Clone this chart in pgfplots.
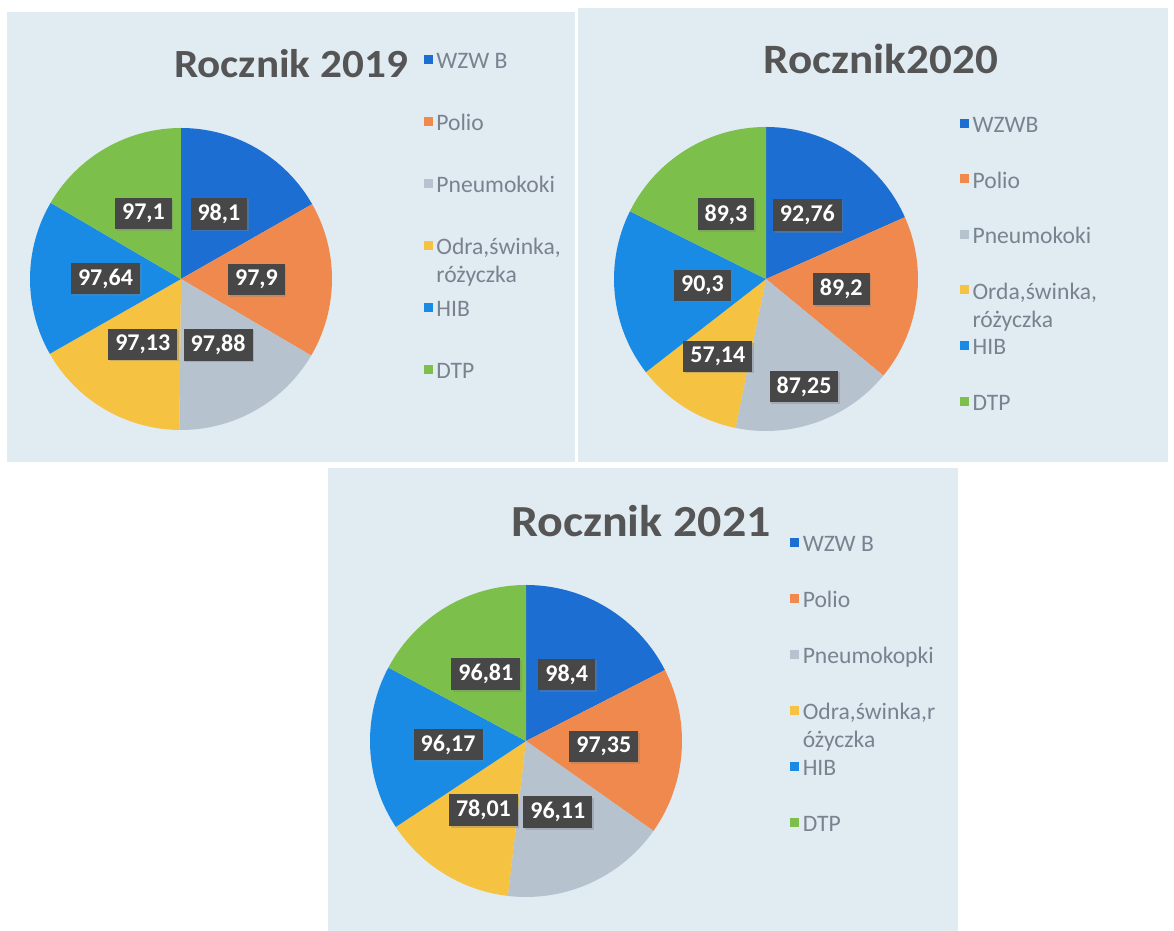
\documentclass[border=0pt]{standalone}
\usepackage{pgfplots}
\usepackage{pgfplotstable}
\pgfplotsset{compat=1.18}
\usetikzlibrary{shadows}
\usepackage{fontspec}
\setmainfont{Carlito}

\definecolor{cWZW}{HTML}{1D6ED3}
\definecolor{cPolio}{HTML}{EF894D}
\definecolor{cPneumo}{HTML}{B7C2CF}
\definecolor{cOdra}{HTML}{F5C242}
\definecolor{cHIB}{HTML}{1A8BE4}
\definecolor{cDTP}{HTML}{7CC04B}
\definecolor{labgray}{HTML}{474747}
\definecolor{titlegray}{HTML}{555555}
\definecolor{leggray}{HTML}{7A8290}
\definecolor{panelbg}{HTML}{E1EBF2}

% value, label radius factor, colour
\pgfplotstableread{
val lr col
98.1 0.5 cWZW
97.9 0.5 cPolio
97.88 0.5 cPneumo
97.13 0.5 cOdra
97.64 0.5 cHIB
97.1 0.5 cDTP
}\dataA
\pgfplotstableread{
val lr col
92.76 0.5 cWZW
89.2 0.5 cPolio
87.25 0.75 cPneumo
57.14 0.6 cOdra
90.3 0.42 cHIB
89.3 0.5 cDTP
}\dataB
\pgfplotstableread{
val lr col
98.4 0.5 cWZW
97.35 0.5 cPolio
96.11 0.5 cPneumo
78.01 0.52 cOdra
96.17 0.5 cHIB
96.81 0.5 cDTP
}\dataC

\tikzset{lab/.style={fill=labgray, text=white, font=\bfseries\fontsize{12}{14}\selectfont,
  inner xsep=3.5pt, inner ysep=3pt,
  drop shadow={opacity=0.35, shadow xshift=0.8pt, shadow yshift=-0.8pt}}}

\newcommand\drawpie[2]{%
  \pgfplotstablegetrowsof{#1}%
  \pgfmathtruncatemacro\lastrow{\pgfplotsretval-1}%
  \gdef\pietot{0}%
  \foreach \i in {0,...,\lastrow}{%
    \pgfplotstablegetelem{\i}{val}\of{#1}%
    \pgfmathsetmacro\tmp{\pietot+\pgfplotsretval}%
    \xdef\pietot{\tmp}%
  }%
  \gdef\piestart{90}%
  \foreach \i in {0,...,\lastrow}{%
    \pgfplotstablegetelem{\i}{val}\of{#1}\let\v\pgfplotsretval
    \pgfplotstablegetelem{\i}{col}\of{#1}\let\c\pgfplotsretval
    \pgfmathsetmacro\pieend{\piestart-\v/\pietot*360}%
    \fill[\c] (axis cs:0,0) -- ++(\piestart:#2pt) arc[start angle=\piestart, end angle=\pieend, radius=#2pt] -- cycle;
    \xdef\piestart{\pieend}%
  }%
  \gdef\piestart{90}%
  \foreach \i in {0,...,\lastrow}{%
    \pgfplotstablegetelem{\i}{val}\of{#1}\let\v\pgfplotsretval
    \pgfplotstablegetelem{\i}{lr}\of{#1}\let\lr\pgfplotsretval
    \pgfmathsetmacro\pieend{\piestart-\v/\pietot*360}%
    \pgfmathsetmacro\piemid{(\piestart+\pieend)/2}%
    \pgfmathsetmacro\rr{\lr*#2}%
    \path (axis cs:0,0) ++(\piemid:\rr pt) node[lab] {\pgfmathprintnumber[fixed,precision=2,use comma,assume math mode=true]{\v}};
    \xdef\piestart{\pieend}%
  }%
}

\pgfplotsset{
  piestyle/.style={hide axis, x=1pt, y=1pt, clip=false, anchor=center,
    legend cell align=left,
    legend image code/.code={\fill[##1] (0pt,-0.3pt) rectangle (4pt,3.7pt);},
    legend style={draw=none, fill=none, anchor=north west, inner sep=0pt, outer sep=0pt,
      column sep=2pt, font=\fontsize{11.8}{14}\selectfont, text=leggray,
      nodes={inner sep=0pt, text height=8pt, text depth=2pt}},
  },
}
\newcommand\legitems[2]{%
  \addlegendimage{cWZW}\addlegendentry{#1}
  \addlegendimage{cPolio}\addlegendentry{Polio}
  \addlegendimage{cPneumo}\addlegendentry{#2}
}

\begin{document}
\begin{tikzpicture}
\path[use as bounding box] (0,0) rectangle (587pt,465.5pt);
\fill[white] (0,0) rectangle (587pt,465.5pt);
\fill[panelbg] (3.5pt,234.5pt) rectangle (287.5pt,459.5pt);
\fill[panelbg] (289pt,234.5pt) rectangle (584pt,461.5pt);
\fill[panelbg] (164pt,0pt) rectangle (479pt,231.5pt);

% 2019
\begin{axis}[piestyle, at={(90.5pt,326pt)}, xmin=-75.5, xmax=75.5, ymin=-75.5, ymax=75.5,
  legend style={at={(1.3033,1.25)}, row sep=21pt}]
\legitems{WZW B}{Pneumokoki}
\addlegendimage{cOdra}\addlegendentry{\smash{\begin{tabular}[t]{@{}l@{}}Odra,świnka,\\[0pt]różyczka\end{tabular}}}
\addlegendimage{cHIB}\addlegendentry{HIB}
\addlegendimage{cDTP}\addlegendentry{DTP}
\pgfplotsextra{\drawpie{\dataA}{75.5}}
\end{axis}

% 2020
\begin{axis}[piestyle, at={(383pt,326pt)}, xmin=-76, xmax=76, ymin=-76, ymax=76,
  legend style={at={(1.1375,1.0345)}, row sep=17.8pt}]
\legitems{WZWB}{Pneumokoki}
\addlegendimage{cOdra}\addlegendentry{\smash{\begin{tabular}[t]{@{}l@{}}Orda,świnka,\\[0pt]różyczka\end{tabular}}}
\addlegendimage{cHIB}\addlegendentry{HIB}
\addlegendimage{cDTP}\addlegendentry{DTP}
\pgfplotsextra{\drawpie{\dataB}{76}}
\end{axis}

% 2021
\begin{axis}[piestyle, at={(263pt,95pt)}, xmin=-78, xmax=78, ymin=-78, ymax=78,
  legend style={at={(1.346,1.1587)}, row sep=18pt}]
\legitems{WZW B}{Pneumokopki}
\addlegendimage{cOdra}\addlegendentry{\smash{\begin{tabular}[t]{@{}l@{}}Odra,świnka,r\\[0pt]óżyczka\end{tabular}}}
\addlegendimage{cHIB}\addlegendentry{HIB}
\addlegendimage{cDTP}\addlegendentry{DTP}
\pgfplotsextra{\drawpie{\dataC}{78}}
\end{axis}

\node[anchor=base, xscale=1.08, transform shape, text=titlegray, font=\bfseries\fontsize{20}{24}\selectfont] at (145.5pt,426.5pt) {Rocznik 2019};
\node[anchor=base, xscale=1.08, transform shape, text=titlegray, font=\bfseries\fontsize{20.9}{25}\selectfont] at (440.5pt,428.5pt) {Rocznik2020};
\node[anchor=base, xscale=1.08, transform shape, text=titlegray, font=\bfseries\fontsize{22.2}{26}\selectfont] at (320.5pt,197pt) {Rocznik 2021};
\end{tikzpicture}
\end{document}
